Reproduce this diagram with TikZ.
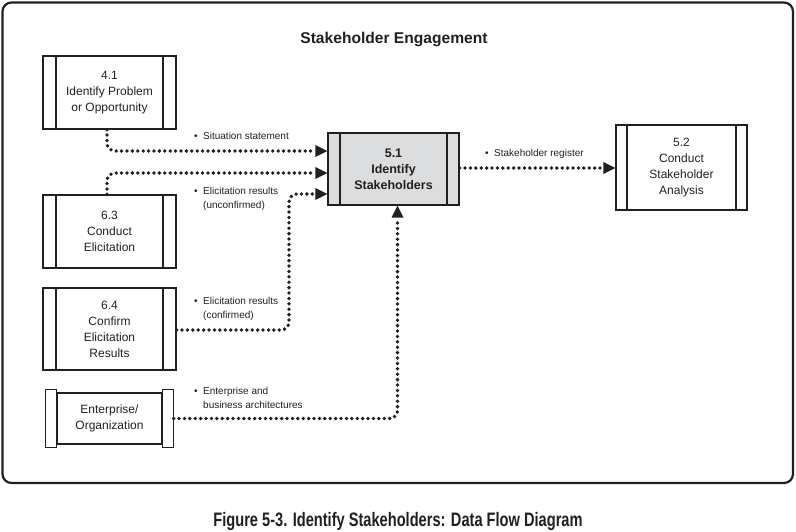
\documentclass[tikz,border=0pt]{standalone}
\usepackage{fontspec}
\setmainfont{Liberation Sans}
\newfontfamily\capfont[FakeStretch=0.75]{Liberation Sans}
\usetikzlibrary{arrows.meta}
\definecolor{frame}{HTML}{231F20}
\definecolor{procfill}{HTML}{DCDDDE}
\tikzset{
  procbox/.style={draw=frame, line width=1.3pt, inner sep=0pt, align=center,
    font=\fontsize{12}{16}\selectfont, text=frame,
    path picture={
      \draw[frame, line width=1.3pt]
        ([xshift=#1]path picture bounding box.north west) -- ([xshift=#1]path picture bounding box.south west)
        ([xshift=-#1]path picture bounding box.north east) -- ([xshift=-#1]path picture bounding box.south east);
    }},
  procbox/.default=13,
  flow/.style={draw=frame, line width=3.8pt, line cap=round, dash pattern=on 0pt off 5.4pt,
    rounded corners=8pt, -{Triangle[length=12pt,width=12pt,line width=0pt]}},
  flowlabel/.style={anchor=base west, inner sep=0pt, text=frame,
    font=\fontsize{10}{14}\selectfont},
}
\newcommand{\bul}{\llap{\textbullet\hspace{5.5pt}}}
\begin{document}
\begin{tikzpicture}[x=1pt, y=-1pt]
\useasboundingbox (0,0) rectangle (796,531);
\draw[frame, line width=2.2pt, rounded corners=9pt] (2.5,2.5) rectangle (793,483);

\node[font=\bfseries\fontsize{15.6}{18}\selectfont, text=frame] (title) at (394,39) {Stakeholder Engagement};

\node[procbox, minimum width=133pt, minimum height=73pt] (n41) at (109.5,92.5) {4.1\\Identify Problem\\or Opportunity};
\node[procbox, minimum width=133pt, minimum height=73pt] (n63) at (109.5,231.5) {6.3\\Conduct\\Elicitation};
\node[procbox, minimum width=133pt, minimum height=82pt] (n64) at (109.5,329) {6.4\\Confirm\\Elicitation\\Results};
\node[procbox=12, fill=procfill, minimum width=131pt, minimum height=72pt,
  font=\bfseries\fontsize{12.5}{16}\selectfont] (n51) at (393.5,169) {5.1\\Identify\\Stakeholders};
\node[procbox=11, minimum width=131pt, minimum height=85pt] (n52) at (681.5,167.5) {5.2\\Conduct\\Stakeholder\\Analysis};

\node[draw=frame, line width=1.3pt, inner sep=0pt, align=center, text=frame,
  font=\fontsize{12}{16}\selectfont, minimum width=105pt, minimum height=51pt] (ent) at (109.5,418.5) {Enterprise/\\Organization};
\draw[frame, line width=1.3pt] ([xshift=-11pt,yshift=3pt]ent.north west) rectangle ([yshift=-3pt]ent.south west);
\draw[frame, line width=1.3pt] ([yshift=3pt]ent.north east) rectangle ([xshift=11pt,yshift=-3pt]ent.south east);
\coordinate (entout) at ([xshift=11pt]ent.east);

% flows
\draw[flow] ([xshift=-2.5pt]n41.south) |- ([yshift=18pt]n51.west);
\draw[flow] ([xshift=-2.5pt]n63.north) |- ([yshift=-4pt]n51.west);
\draw[flow] ([yshift=-1pt]n64.east) -| (289,194) -- ([yshift=-25pt]n51.west);
\draw[flow] (entout) -| ([xshift=4pt]n51.south);
\draw[flow] ([yshift=1pt]n51.east) -- ([yshift=-0.5pt]n52.west);

% labels
\node[flowlabel] (l1) at (203,139.6) {\bul Situation statement};
\node[flowlabel] (l2) at (203,194.6) {\begin{tabular}[t]{@{}l@{}}\bul Elicitation results\\(unconfirmed)\end{tabular}};
\node[flowlabel] (l3) at (203,304.6) {\begin{tabular}[t]{@{}l@{}}\bul Elicitation results\\(confirmed)\end{tabular}};
\node[flowlabel] (l4) at (203,394.6) {\begin{tabular}[t]{@{}l@{}}\bul Enterprise and\\business architectures\end{tabular}};
\node[flowlabel] (l5) at (494,156.6) {\bul Stakeholder register};

\node[font=\capfont\bfseries\fontsize{19.5}{22}\selectfont, text=frame] (cap) at (398,521.5) {Figure 5-3. Identify Stakeholders: Data Flow Diagram};
\end{tikzpicture}
\end{document}
